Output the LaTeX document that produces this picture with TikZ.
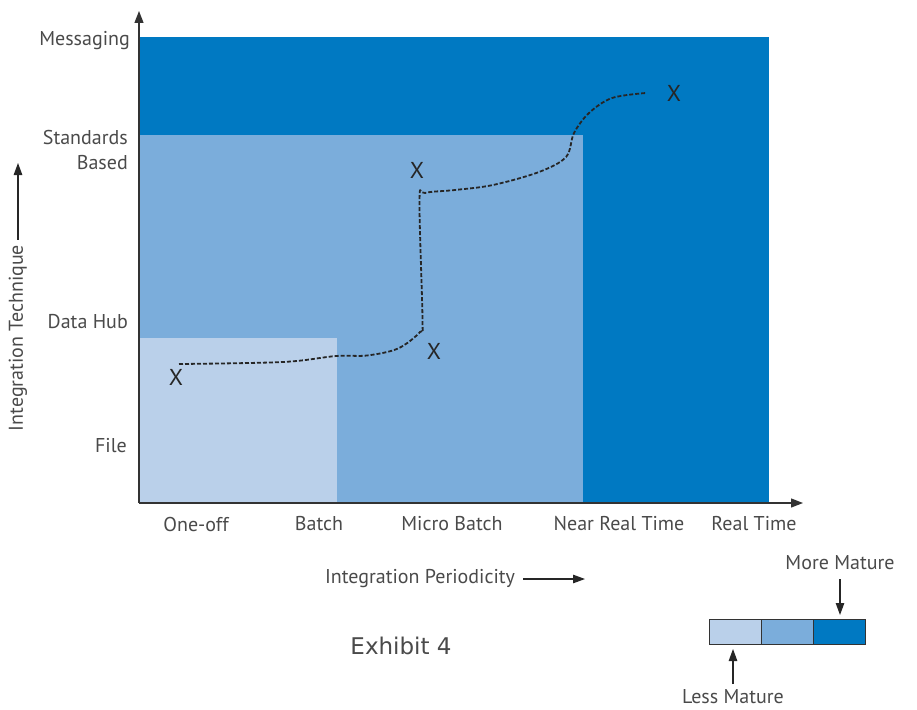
\documentclass[tikz,border=0pt]{standalone}
\usepackage{fontspec}
\setmainfont{PT Sans}
\newfontfamily\exhibitfont{DejaVu Sans}
\usetikzlibrary{arrows.meta,positioning}
\definecolor{darkblue}{HTML}{0079C2}
\definecolor{midblue}{HTML}{7BADDB}
\definecolor{lightblue}{HTML}{BAD0EA}
\definecolor{txtgray}{HTML}{4A4A4A}
\definecolor{axisgray}{HTML}{333333}
\begin{document}
\begin{tikzpicture}[x=1pt,y=-1pt]
% styles
\tikzstyle{lbl} = [text=txtgray, font=\fontsize{20}{25}\selectfont, inner sep=0pt];
\tikzstyle{xmark} = [text=black!85, font=\fontsize{23}{25}\selectfont, inner sep=0pt];
\tikzstyle{axis} = [draw=axisgray, line width=1.3pt, -{Triangle[length=12pt,width=9pt]}];
\tikzstyle{arr} = [draw=black!85, line width=1.1pt, -{Triangle[length=12pt,width=8.5pt]}];
\tikzstyle{legbox} = [draw=black!80, line width=1pt, minimum width=52pt,
	minimum height=25pt, outer sep=0pt, inner sep=0pt];
\tikzstyle{evopath} = [draw=black!85, line width=1.8pt, dash pattern=on 4pt off 2pt];
\useasboundingbox (0,0) rectangle (917,709);
% maturity regions
\fill[darkblue] (139,37) rectangle (769,503);
\fill[midblue] (139,135) rectangle (583,503);
\fill[lightblue] (139,338) rectangle (337,503);
% axes
\coordinate (o) at (139,503);
\coordinate (xend) at (803,503);
\coordinate (yend) at (139,11);
\draw[axis] (o) -- (xend);
\draw[axis] (o) -- (yend);
% y axis labels
\node[lbl, anchor=east] (msg) at (130,41) {Messaging};
\node[lbl, anchor=east, align=right] (std) at (128,150) {Standards\\Based};
\node[lbl, anchor=east] (hub) at (128,322) {Data Hub};
\node[lbl, anchor=east] (file) at (127,446) {File};
% x axis labels
\foreach \xpos/\name/\txt in {196/oneoff/One-off, 319/batch/Batch,
	452/micro/Micro Batch, 619/nrt/Near Real Time, 754/rt/Real Time}
{
	\node[lbl] (\name) at (\xpos,524) {\txt};
}
% axis titles
\node[lbl] (xtitle) at (420,579) {Integration Periodicity};
\draw[arr] ([xshift=8pt]xtitle.east) -- (585,579) coordinate (xtip);
\node[lbl, rotate=90] (ytitle) at (18,338) {Integration Technique};
\draw[arr] ([yshift=5pt]ytitle.east) -- (18,163) coordinate (ytip);
% evolution path
\node[xmark] (x1) at (176,377) {X};
\node[xmark] (x2) at (434,351) {X};
\node[xmark] (x3) at (417,170) {X};
\node[xmark] (x4) at (674,93) {X};
\draw[evopath] plot[smooth, tension=0.55] coordinates {
	(179,364) (283,362) (336,356) (367,355.5) (398,348.5) (420,332)
	(422.5,320) (419.5,201) (425,193) (455,190) (493,185) (539,172)
	(566,157) (574,133) (589,113) (612,98) (646,93) };
% legend
\node[legbox, fill=lightblue] (leg1) at (735,631.5) {};
\node[legbox, fill=midblue, right=0pt of leg1] (leg2) {};
\node[legbox, fill=darkblue, right=0pt of leg2] (leg3) {};
\node[lbl] (more) at (840,563) {More Mature};
\node[lbl] (less) at (733,697) {Less Mature};
\coordinate (morefoot) at (840,579);
\coordinate (lesshead) at (733,684);
\draw[arr] (morefoot) -- ([yshift=4pt]morefoot |- leg3.north);
\draw[arr] (lesshead) -- ([yshift=-5pt]lesshead |- leg1.south);
% caption
\node[text=txtgray, font=\exhibitfont\fontsize{23}{26}\selectfont, inner sep=0pt]
	(caption) at (401,646) {Exhibit 4};
\end{tikzpicture}
\end{document}
